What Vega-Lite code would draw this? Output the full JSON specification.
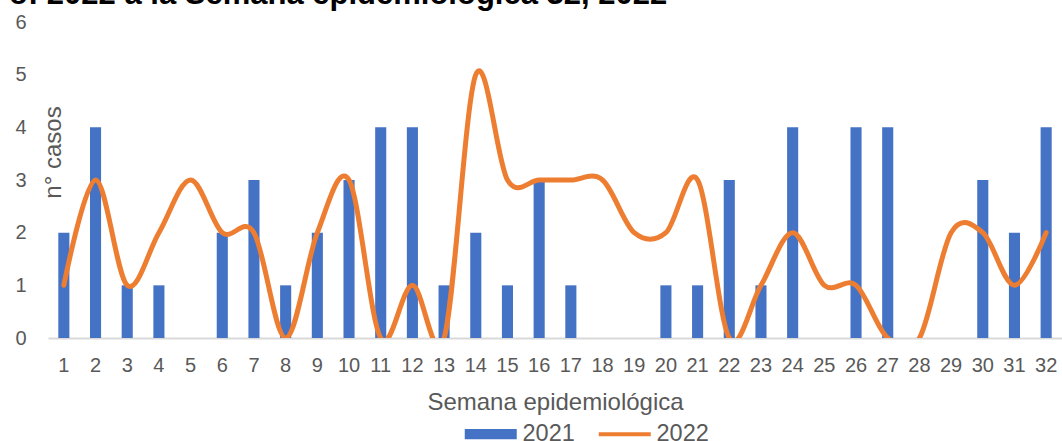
{
  "$schema": "https://vega.github.io/schema/vega-lite/v6.json",
  "width": 1014,
  "height": 316,
  "autosize": {"type": "none"},
  "padding": {"left": 48, "top": 22, "right": 0, "bottom": 103},
  "background": "white",
  "config": {"font": "Liberation Sans", "view": {"stroke": null}},
  "title": {
    "text": "o: 2022 a la Semana epidemiológica 32, 2022",
    "anchor": "start",
    "frame": "group",
    "fontSize": 31,
    "fontWeight": "bold",
    "color": "#000000",
    "offset": 0,
    "dx": -39,
    "dy": 23,
    "baseline": "alphabetic"
  },
  "data": {
    "values": [
      {"semana": 1, "v2021": 2, "v2022": 1},
      {"semana": 2, "v2021": 4, "v2022": 3},
      {"semana": 3, "v2021": 1, "v2022": 1},
      {"semana": 4, "v2021": 1, "v2022": 2},
      {"semana": 5, "v2021": 0, "v2022": 3},
      {"semana": 6, "v2021": 2, "v2022": 2},
      {"semana": 7, "v2021": 3, "v2022": 2},
      {"semana": 8, "v2021": 1, "v2022": 0},
      {"semana": 9, "v2021": 2, "v2022": 2},
      {"semana": 10, "v2021": 3, "v2022": 3},
      {"semana": 11, "v2021": 4, "v2022": 0},
      {"semana": 12, "v2021": 4, "v2022": 1},
      {"semana": 13, "v2021": 1, "v2022": 0},
      {"semana": 14, "v2021": 2, "v2022": 5},
      {"semana": 15, "v2021": 1, "v2022": 3},
      {"semana": 16, "v2021": 3, "v2022": 3},
      {"semana": 17, "v2021": 1, "v2022": 3},
      {"semana": 18, "v2021": 0, "v2022": 3},
      {"semana": 19, "v2021": 0, "v2022": 2},
      {"semana": 20, "v2021": 1, "v2022": 2},
      {"semana": 21, "v2021": 1, "v2022": 3},
      {"semana": 22, "v2021": 3, "v2022": 0},
      {"semana": 23, "v2021": 1, "v2022": 1},
      {"semana": 24, "v2021": 4, "v2022": 2},
      {"semana": 25, "v2021": 0, "v2022": 1},
      {"semana": 26, "v2021": 4, "v2022": 1},
      {"semana": 27, "v2021": 4, "v2022": 0},
      {"semana": 28, "v2021": 0, "v2022": 0},
      {"semana": 29, "v2021": 0, "v2022": 2},
      {"semana": 30, "v2021": 3, "v2022": 2},
      {"semana": 31, "v2021": 2, "v2022": 1},
      {"semana": 32, "v2021": 4, "v2022": 2}
    ]
  },
  "encoding": {
    "x": {
      "field": "semana",
      "type": "ordinal",
      "scale": {"paddingInner": 0.65, "paddingOuter": 0.325},
      "axis": {
        "title": "Semana epidemiológica",
        "labelAngle": 0,
        "labelFontSize": 20,
        "labelColor": "#595959",
        "labelPadding": 17,
        "ticks": false,
        "domainColor": "#d9d9d9",
        "domainWidth": 2,
        "titleFontSize": 24,
        "titleFontWeight": "normal",
        "titleColor": "#595959",
        "titlePadding": 15
      }
    }
  },
  "layer": [
    {
      "mark": {"type": "bar"},
      "encoding": {
        "y": {
          "field": "v2021",
          "type": "quantitative",
          "scale": {"domain": [0, 6], "nice": false},
          "axis": {
            "title": "n° casos",
            "values": [0, 1, 2, 3, 4, 5, 6],
            "grid": false,
            "domain": false,
            "ticks": false,
            "labelFontSize": 20,
            "labelColor": "#595959",
            "labelPadding": 22,
            "titleFontSize": 24,
            "titleFontWeight": "normal",
            "titleColor": "#595959",
            "titleX": 17,
            "titleY": 130
          }
        },
        "color": {
          "datum": "2021",
          "type": "nominal",
          "scale": {"domain": ["2021", "2022"], "range": ["#4472C4", "#ED7D31"]},
          "legend": {
            "title": null,
            "orient": "none",
            "direction": "horizontal",
            "legendX": 431,
            "legendY": 400,
            "labelFontSize": 23.5,
            "labelColor": "#595959",
            "labelOffset": 20,
            "columnPadding": 15,
            "symbolSize": 2704,
            "encode": {
              "symbols": {
                "update": {
                  "shape": {"signal": "datum.value === '2021' ? 'M-1,-0.2H1V0.2H-1Z' : 'M-1,0H1'"},
                  "fill": {"signal": "datum.value === '2021' ? '#4472C4' : 'transparent'"},
                  "stroke": {"signal": "datum.value === '2021' ? '#4472C4' : '#ED7D31'"},
                  "strokeWidth": {"signal": "datum.value === '2021' ? 0 : 4"},
                  "opacity": {"value": 1}
                }
              }
            }
          }
        }
      }
    },
    {
      "mark": {"type": "line", "interpolate": "cardinal", "tension": 0, "strokeWidth": 5, "strokeCap": "round", "clip": true},
      "encoding": {
        "y": {"field": "v2022", "type": "quantitative"},
        "color": {"datum": "2022", "type": "nominal"}
      }
    }
  ]
}
